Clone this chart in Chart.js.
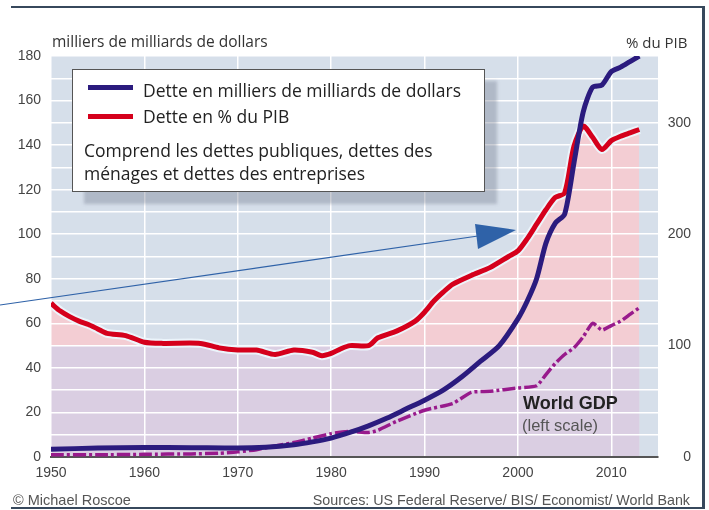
<!DOCTYPE html>
<html>
<head>
<meta charset="utf-8">
<script src="https://cdn.jsdelivr.net/npm/chart.js@4.4.1/dist/chart.umd.min.js"></script>
<style>
  body { margin: 0; background: #fff; }
  #wrap { position: relative; width: 709px; height: 510px; overflow: hidden; font-family: "Liberation Sans", Arial, sans-serif; }
  #wrap canvas { position: absolute; left: 0; top: 0; }
  .txt { position: absolute; white-space: nowrap; }
  .frame { position: absolute; background: #37485c; }
  #legendBox { position: absolute; left: 72px; top: 69px; width: 411px; height: 121px; background: #fff;
    border: 1.5px solid #555; box-shadow: 12px 12px 3px rgba(105, 115, 135, 0.35);
    font-family: "Open Sans", "Noto Sans", sans-serif; font-size: 17.5px; color: #222; }
  #legendBox .sw { position: absolute; left: 15px; width: 45px; height: 5px; }
  #legendBox .lt { position: absolute; white-space: nowrap; line-height: 24px; }
</style>
</head>
<body>
<div id="wrap">
  <canvas id="myChart" width="709" height="510"></canvas>

  <div class="txt" style="left:52px; top:31px; font-family:'Open Sans',sans-serif; font-size:15.5px; line-height:21px; color:#333;">milliers de milliards de dollars</div>
  <div class="txt" style="left:626px; top:32px; font-family:'Open Sans',sans-serif; font-size:15px; line-height:20px; color:#333;">% du PIB</div>

  <div id="legendBox">
    <div class="sw" style="top:15px; background:#2b1b7e;"></div>
    <div class="lt" style="left:70px; top:7.5px;">Dette en milliers de milliards de dollars</div>
    <div class="sw" style="top:43.5px; background:#d5001c;"></div>
    <div class="lt" style="left:70px; top:33.5px;">Dette en % du PIB</div>
    <div class="lt" style="left:11px; top:67.5px;">Comprend les dettes publiques, dettes des</div>
    <div class="lt" style="left:11px; top:90.5px;">ménages et dettes des entreprises</div>
  </div>

  <div class="txt" style="left:523px; top:392px; font-size:18px; line-height:22px; font-weight:bold; color:#222;">World GDP</div>
  <div class="txt" style="left:522px; top:415px; font-size:16.5px; line-height:20px; color:#555;">(left scale)</div>

  <div class="txt" style="left:13px; top:492px; font-size:14.5px; line-height:17px; color:#555;">© Michael Roscoe</div>
  <div class="txt" style="right:19px; top:492px; font-size:14.3px; line-height:17px; color:#555;">Sources: US Federal Reserve/ BIS/ Economist/ World Bank</div>

  <div class="frame" style="left:11px; top:6px; width:694px; height:2px;"></div>
  <div class="frame" style="left:702px; top:6px; width:3px; height:503px;"></div>
  <div class="frame" style="left:11px; top:507px; width:694px; height:2px;"></div>

  <svg width="709" height="510" style="position:absolute; left:0; top:0;">
    <line x1="0" y1="305" x2="478" y2="236" stroke="#2f62a8" stroke-width="1.2"/>
    <polygon points="475,224 478,249 516,230" fill="#2f62a8"/>
  </svg>
</div>

<script>
// debt in thousands of billions of dollars (left scale)
const debtYears = [1950, 1955, 1960, 1965, 1970, 1973, 1976, 1978, 1980, 1982, 1984, 1986, 1988, 1990, 1992, 1994, 1996, 1998, 2000, 2001, 2002, 2003, 2004, 2005, 2006, 2007, 2008, 2009, 2010, 2011, 2012, 2013];
const debtValues = [3.5, 4, 4.3, 4.2, 4, 4.4, 5.5, 6.8, 8.5, 11, 14, 17.5, 21.5, 25.5, 30, 36, 43, 50, 62, 70, 80, 96, 105, 109, 132, 155, 166, 167, 173, 175, 177.5, 180];

// debt in % of GDP (right scale)
const pibYears = [1950, 1951, 1952, 1953, 1954, 1955, 1956, 1958, 1960, 1962, 1966, 1968, 1970, 1972, 1974, 1976, 1978, 1979, 1980, 1981, 1982, 1984, 1985, 1987, 1989, 1990, 1991, 1992, 1993, 1995, 1997, 1999, 2000, 2001, 2002, 2003, 2004, 2005, 2006, 2007, 2008, 2009, 2010, 2011, 2012, 2013];
const pibValues = [138, 131, 126, 122, 119, 115, 111, 109, 103, 102, 102, 98, 96, 96, 92, 96, 94, 91, 93, 97, 100, 100, 107, 113, 122, 130, 140, 148, 155, 163, 170, 180, 185, 196, 209, 222, 233, 237, 279, 297, 287, 276, 284, 288, 291, 294];

// world GDP (left scale)
const gdpYears = [1950, 1955, 1960, 1965, 1968, 1970, 1972, 1974, 1976, 1978, 1980, 1982, 1984, 1985, 1987, 1990, 1993, 1995, 1997, 2000, 2002, 2003, 2004, 2005, 2006, 2007, 2008, 2009, 2010, 2011, 2012, 2013];
const gdpValues = [1, 1, 1.2, 1.4, 1.7, 2.3, 3.3, 5, 6.5, 8.5, 10.5, 11.5, 11, 12, 16, 21, 24, 29, 29.5, 31, 32, 37, 42, 46, 49, 54, 60, 57, 59, 61, 64, 67];

// 100 % of GDP band
const bandYears = [1950, 2013];
const bandValues = [100, 100];

const leftTicks = [0, 20, 40, 60, 80, 100, 120, 140, 160, 180];

function points(xs, ys) {
    return xs.map((x, i) => ({ x: x, y: ys[i] }));
}

const plotBackground = {
    id: 'plotBackground',
    afterDraw(chart) {
        const { ctx, chartArea: a } = chart;
        ctx.save();
        ctx.globalCompositeOperation = 'destination-over';
        ctx.fillStyle = '#d6dfea';
        ctx.fillRect(a.left, a.top, a.right - a.left, a.bottom - a.top);
        ctx.restore();
    }
};

const tickFont = { family: 'Liberation Sans', size: 14 };

const data = {
    datasets: [{
        data: points(bandYears, bandValues),
        yAxisID: 'y2',
        borderWidth: 0,
        borderColor: 'rgba(0,0,0,0)',
        backgroundColor: '#dacee2',
        fill: 'origin',
        pointRadius: 0
    }, {
        label: 'Dette en milliers de milliards de dollars',
        data: points(debtYears, debtValues),
        yAxisID: 'y',
        borderColor: '#2b1b7e',
        borderWidth: 5,
        pointRadius: 0,
        tension: 0.25,
        fill: false
    }, {
        label: 'World GDP',
        data: points(gdpYears, gdpValues),
        yAxisID: 'y',
        borderColor: '#981a8c',
        borderWidth: 3.5,
        borderDash: [13, 3, 3, 3],
        pointRadius: 0,
        tension: 0.2,
        fill: false
    }, {
        label: 'Dette en % du PIB',
        data: points(pibYears, pibValues),
        yAxisID: 'y2',
        borderColor: '#d5001c',
        borderWidth: 5,
        backgroundColor: '#f3cdd3',
        fill: 'origin',
        pointRadius: 0,
        tension: 0.25
    }, {
        // light halo under the red line
        data: points(pibYears, pibValues),
        yAxisID: 'y2',
        borderColor: 'rgba(236,246,252,0.95)',
        borderWidth: 9,
        pointRadius: 0,
        tension: 0.25,
        fill: false
    }]
};

const config = {
    type: 'line',
    data: data,
    plugins: [plotBackground],
    options: {
        responsive: false,
        animation: false,
        events: [],
        layout: { padding: { top: 56, left: 0, right: 18, bottom: 0 } },
        plugins: {
            legend: { display: false },
            tooltip: { enabled: false },
            filler: { drawTime: 'beforeDraw' }
        },
        scales: {
            x: {
                type: 'linear',
                min: 1950,
                max: 2015,
                grid: { color: '#ffffff', lineWidth: 1.5, drawTicks: false },
                border: { display: true, color: '#555555', width: 2 },
                ticks: {
                    stepSize: 10,
                    includeBounds: false,
                    padding: 8,
                    color: '#444',
                    font: tickFont,
                    callback: v => String(v)
                },
                afterFit: s => { s.height = 53; }
            },
            y: {
                position: 'left',
                min: 0,
                max: 180,
                grid: { color: '#ffffff', lineWidth: 1.5, drawTicks: false },
                border: { display: false },
                ticks: {
                    stepSize: 10,
                    autoSkip: false,
                    padding: 10,
                    color: '#444',
                    font: tickFont,
                    callback: v => leftTicks.includes(v) ? String(v) : ''
                },
                afterFit: s => { s.width = 51; }
            },
            y2: {
                position: 'right',
                min: 0,
                max: 360,
                grid: { display: false, drawTicks: false },
                border: { display: false },
                ticks: {
                    stepSize: 100,
                    includeBounds: false,
                    crossAlign: 'far',
                    padding: 7,
                    color: '#444',
                    font: tickFont
                },
                afterFit: s => { s.width = 33; }
            }
        }
    }
};

const myChart = new Chart(document.getElementById('myChart'), config);
</script>
</body>
</html>
